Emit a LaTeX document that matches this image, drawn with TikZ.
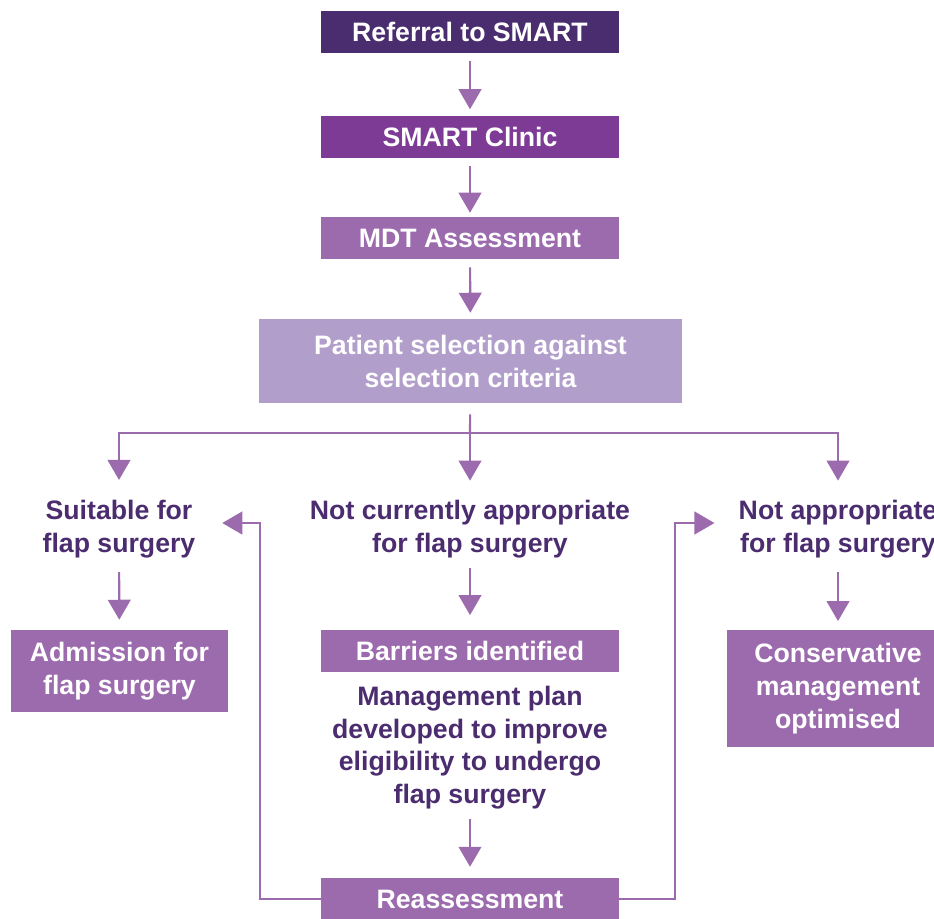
\documentclass[tikz,border=0pt]{standalone}
\usepackage{fontspec}
\setmainfont{Liberation Sans}
\usepackage{tikz}
\usetikzlibrary{arrows.meta,positioning,calc}
\definecolor{deeppurple}{HTML}{4A2D6E}
\definecolor{clinicpurple}{HTML}{7E3B96}
\definecolor{midpurple}{HTML}{9C6BAE}
\definecolor{palepurple}{HTML}{B19ECB}
\definecolor{textpurple}{HTML}{4B2C6F}
\tikzset{
  stage/.style={rectangle,fill=midpurple,text=white,minimum width=223.5pt,minimum height=31.5pt,inner sep=0pt,align=center,font=\fontsize{20}{24.75}\selectfont\bfseries},
  outcome/.style={rectangle,inner sep=0pt,align=center,text=textpurple,font=\fontsize{20}{24.5}\selectfont\bfseries},
  arrow/.style={-{Triangle[length=15pt,width=17pt]},line width=1.6pt,draw=midpurple,shorten <=6pt,shorten >=4.5pt},
  line/.style={line width=1.6pt,draw=midpurple}
}

\begin{document}
\begin{tikzpicture}[x=0.75pt,y=-0.75pt]
  \useasboundingbox (0,0) rectangle (934,918);
  % referral pathway
  \node[stage,fill=deeppurple] (referral) at (470,32) {Referral to SMART};
  \node[stage,fill=clinicpurple] (clinic) at (470,136.5) {SMART Clinic};
  \node[stage] (mdt) at (470,238) {MDT Assessment};
  \node[stage,fill=palepurple,minimum width=317.25pt,minimum height=63pt] (select) at (470.5,361) {Patient selection against\\selection criteria};
  \coordinate (split) at (470,433);
  % outcomes
  \node[outcome] (suitable) at (119,529) {Suitable for\\flap surgery};
  \node[outcome] (notnow) at (470,529) {Not currently appropriate\\for flap surgery};
  \node[outcome] (notapp) at (838,529) {Not appropriate\\for flap surgery};
  \node[stage,minimum width=162.75pt,minimum height=61.5pt] (admit) at (119.5,671) {Admission for\\flap surgery};
  \node[stage] (barriers) at (470,651) {Barriers identified};
  \node[outcome] (plan) at (470,747.7) {Management plan\\developed to improve\\eligibility to undergo\\flap surgery};
  \node[stage] (reassess) at (470,899) {Reassessment};
  \node[stage,minimum width=166.5pt,minimum height=87.75pt] (conserve) at (838,688.5) {Conservative\\management\\optimised};
  % connectors
  \draw[arrow] (referral) -- (clinic);
  \draw[arrow,shorten >=3pt] (clinic) -- (mdt);
  \draw[arrow] (mdt) -- (select);
  \draw[line,shorten <=8.25pt] (select) -- (split);
  \draw[arrow,shorten <=0pt,shorten >=15pt] (split) -| (suitable);
  \draw[arrow,shorten <=0pt,shorten >=14.5pt] (split) -- (notnow);
  \draw[arrow,shorten <=0pt,shorten >=14.5pt] (split) -| (notapp);
  \draw[arrow,shorten <=10.5pt,shorten >=7.5pt] (suitable) -- (admit);
  \draw[arrow,shorten <=7.5pt,shorten >=11pt] (notnow) -- (barriers);
  \draw[arrow,shorten <=10.5pt,shorten >=6.5pt] (notapp) -- (conserve);
  \draw[arrow,shorten <=7.5pt,shorten >=8.25pt] (plan) -- (reassess);
  \draw[arrow,shorten <=0pt,shorten >=0pt] (reassess.west) -- ++(-61,0) |- ([xshift=20pt,yshift=4.5pt]suitable.east);
  \draw[arrow,shorten <=0pt,shorten >=0pt] (reassess.east) -- ++(56,0) |- ([xshift=-18pt,yshift=4.5pt]notapp.west);
\end{tikzpicture}
\end{document}
